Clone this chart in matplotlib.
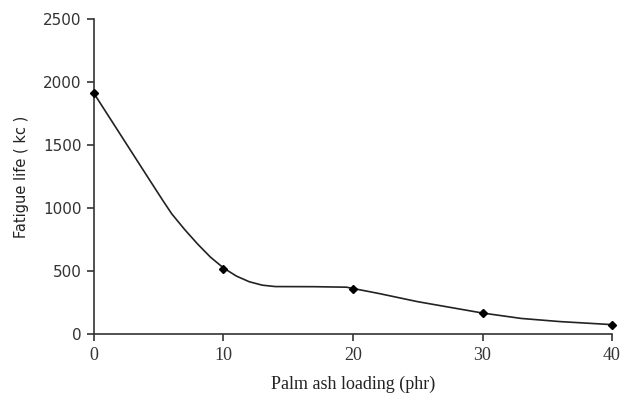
import matplotlib
matplotlib.use("Agg")
import matplotlib.pyplot as plt

# measured points (diamond markers)
loading = [0, 10, 20, 30, 40]
fatigue = [1910, 520, 360, 165, 75]

# smoothed trend line
curve_x = [0, 2, 4, 5.3, 6, 7, 8, 9, 10, 11, 12, 13, 14, 17, 19.5, 22, 25, 28, 30, 33, 36, 40]
curve_y = [1910, 1590, 1270, 1063, 955, 830, 715, 610, 525, 460, 415, 388, 377, 376, 372, 322, 257, 203, 167, 124, 99, 75]

x_ticks = [0, 10, 20, 30, 40]
y_ticks = [0, 500, 1000, 1500, 2000, 2500]

fig = plt.figure(figsize=(6.22, 4.03), dpi=100)
ax = fig.add_axes([0.151, 0.171, 0.833, 0.782])

ax.plot(curve_x, curve_y, color="#222222", lw=1.2, zorder=2)
ax.plot(loading, fatigue, linestyle="none", marker="D", ms=4.5, color="black", zorder=3, clip_on=False)

ax.set_xlim(0, 40)
ax.set_ylim(0, 2500)
ax.set_xticks(x_ticks)
ax.set_yticks(y_ticks)

for s in ["top", "right"]:
    ax.spines[s].set_visible(False)
for s in ["left", "bottom"]:
    ax.spines[s].set_linewidth(1.2)
    ax.spines[s].set_color("#333333")

ax.tick_params(direction="out", length=5, width=1.2, color="#333333")
ax.tick_params(axis="y", labelsize=11, pad=4, labelcolor="#333333")
ax.tick_params(axis="x", labelsize=13, pad=4, labelcolor="#333333")
for lab in ax.get_xticklabels():
    lab.set_family("Liberation Serif")

ax.set_xlabel("Palm ash loading (phr)", family="Liberation Serif", fontsize=13,
              color="#222222", labelpad=9)
ax.set_ylabel("Fatigue life ( kc )", fontsize=10.5, color="#222222", labelpad=10)

fig.savefig("out.png", dpi=100)
